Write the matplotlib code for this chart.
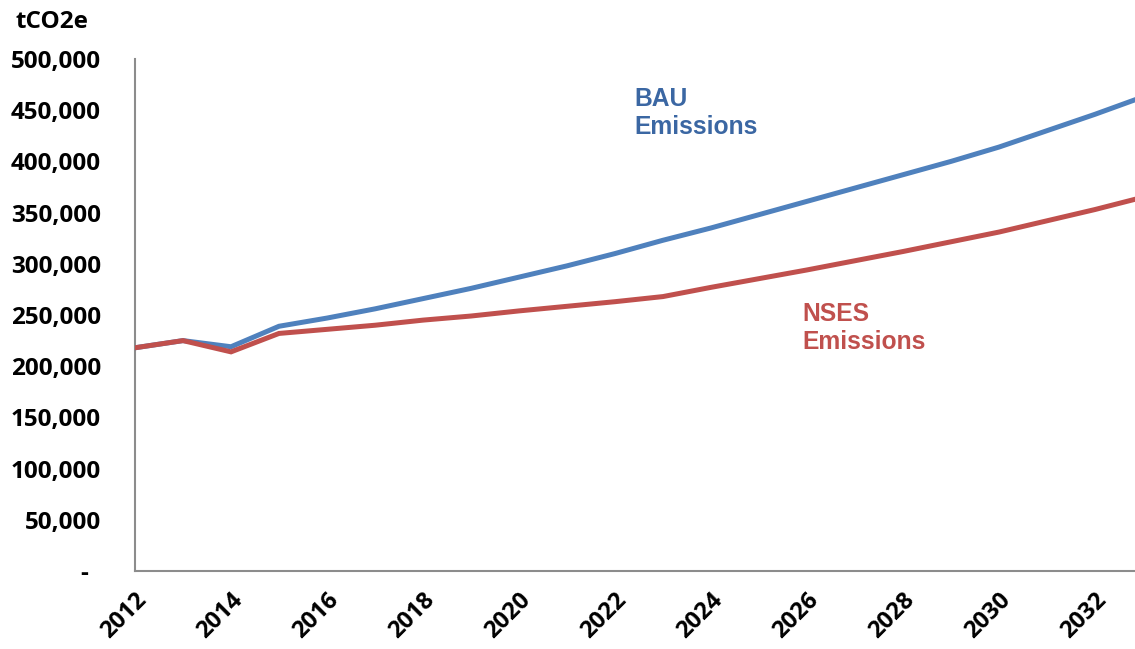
import matplotlib
matplotlib.use("Agg")
import matplotlib.pyplot as plt
from matplotlib.ticker import FuncFormatter, MultipleLocator
from matplotlib.transforms import ScaledTranslation

# Emissions projections, tCO2e per year
years = list(range(2012, 2034))
bau = [218000, 225000, 219000, 239000, 247000, 256000, 266000, 276000,
       287000, 298000, 310000, 323000, 335000, 348000, 361000, 374000,
       387000, 400000, 414000, 430000, 446000, 463000]
nses = [218000, 225000, 214000, 232000, 236000, 240000, 245000, 249000,
        254000, 258500, 263000, 268000, 277000, 285500, 294000, 303000,
        312000, 321500, 331000, 342000, 353000, 365000]
xtick_years = list(range(2012, 2033, 2))

BLUE = "#4F81BD"
RED = "#C0504D"
BLUE_TXT = "#3B67A3"
RED_TXT = "#C0504D"
AXIS_GREY = "#8C8C8C"

tick_font = "Open Sans"
label_font = "Liberation Sans"
TICK_SIZE = 17.5

fig = plt.figure(figsize=(11.35, 6.49), dpi=100)
W, H = 1135, 649
ax = fig.add_axes([135 / W, (H - 571) / H, (1143 - 135) / W, (571 - 59) / H])

ax.plot(years, bau, color=BLUE, lw=3.6, solid_joinstyle="miter", zorder=3)
ax.plot(years, nses, color=RED, lw=3.6, solid_joinstyle="miter", zorder=4)

ax.set_xlim(2012, 2033)
ax.set_ylim(0, 500000)
ax.yaxis.set_major_locator(MultipleLocator(50000))


def yfmt(v, pos):
    if v == 0:
        return "-  "
    return f"{int(v):,}"


ax.yaxis.set_major_formatter(FuncFormatter(yfmt))
ax.set_xticks(xtick_years)
ax.set_xticklabels([str(y) for y in xtick_years], rotation=45, ha="right",
                   rotation_mode="anchor")

for lbl in ax.get_yticklabels():
    lbl.set_fontfamily(tick_font)
    lbl.set_fontweight("bold")
    lbl.set_fontsize(TICK_SIZE)
for lbl in ax.get_xticklabels():
    lbl.set_fontfamily(tick_font)
    lbl.set_fontweight("bold")
    lbl.set_fontsize(17)

shift = ScaledTranslation(4 / 100, 0, fig.dpi_scale_trans)
for lbl in ax.get_xticklabels():
    lbl.set_transform(lbl.get_transform() + shift)

ax.tick_params(axis="both", length=0)
ax.tick_params(axis="y", pad=24.5)
ax.tick_params(axis="x", pad=12)

for side in ("top", "right"):
    ax.spines[side].set_visible(False)
for side in ("left", "bottom"):
    ax.spines[side].set_color(AXIS_GREY)
    ax.spines[side].set_linewidth(1.5)

fig.text(16 / W, 1 - 10 / H, "tCO2e", fontfamily=tick_font, fontweight="bold",
         fontsize=TICK_SIZE, ha="left", va="top")

ax.text(2022.4, 472500, "BAU\nEmissions", color=BLUE_TXT, fontfamily=label_font,
        fontweight="bold", fontsize=17.7, ha="left", va="top", linespacing=1.2)
ax.text(2025.9, 262500, "NSES\nEmissions", color=RED_TXT, fontfamily=label_font,
        fontweight="bold", fontsize=17.7, ha="left", va="top", linespacing=1.2)

fig.savefig("out.png", dpi=100)
